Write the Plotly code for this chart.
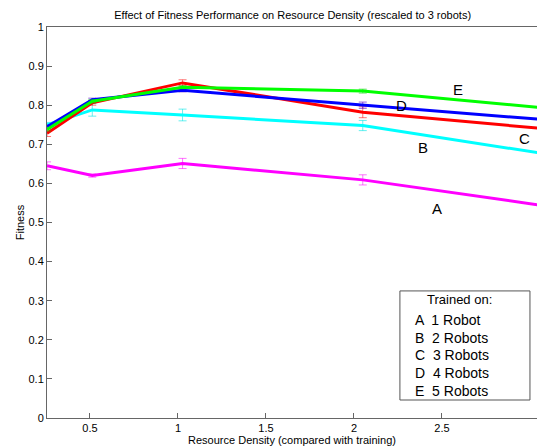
import plotly.graph_objects as go

# Data (x = resource density, rescaled)
x_vals = [0.256, 0.513, 1.026, 2.05, 3.08]

series_names = ["A", "B", "C", "D", "E"]
series_colors = ["#FF00FF", "#00FFFF", "#FF0000", "#0000FF", "#00FF00"]
err_colors = ["rgba(255,0,255,0.55)", "rgba(0,230,230,0.6)", "rgba(255,0,0,0.55)",
              "rgba(80,0,200,0.6)", "rgba(0,200,0,0.55)"]

A_vals = [0.645, 0.620, 0.651, 0.609, 0.543]
B_vals = [0.750, 0.788, 0.775, 0.748, 0.676]
C_vals = [0.728, 0.806, 0.857, 0.782, 0.740]
D_vals = [0.745, 0.814, 0.838, 0.800, 0.763]
E_vals = [0.738, 0.810, 0.846, 0.836, 0.793]

A_err = [0.010, 0.004, 0.013, 0.013, 0]
B_err = [0.006, 0.016, 0.015, 0.013, 0]
C_err = [0.008, 0.006, 0.008, 0.014, 0]
D_err = [0.004, 0.004, 0.004, 0.008, 0]
E_err = [0.004, 0.004, 0.004, 0.005, 0]

all_vals = [A_vals, B_vals, C_vals, D_vals, E_vals]
all_errs = [A_err, B_err, C_err, D_err, E_err]

label_x = [2.47, 2.39, 2.97, 2.27, 2.59]
label_y = [0.537, 0.693, 0.716, 0.798, 0.839]

legend_title = "Trained on:"
legend_lines = ["A  1 Robot", "B  2 Robots", "C  3 Robots", "D  4 Robots", "E  5 Robots"]

x_ticks = [0.5, 1, 1.5, 2, 2.5]
y_ticks = [0, 0.1, 0.2, 0.3, 0.4, 0.5, 0.6, 0.7, 0.8, 0.9, 1]

FONT = "Arial, Liberation Sans, sans-serif"

fig = go.Figure()
for name, col, ecol, vals, errs in zip(series_names, series_colors, err_colors, all_vals, all_errs):
    fig.add_trace(go.Scatter(
        x=x_vals, y=vals, mode="lines", name=name,
        line=dict(color=col, width=3),
        error_y=dict(type="data", array=errs, visible=True, color=ecol, thickness=1, width=4),
        showlegend=False,
    ))

for name, lx, ly in zip(series_names, label_x, label_y):
    fig.add_annotation(x=lx, y=ly, text=name, showarrow=False,
                       font=dict(family=FONT, size=15, color="black"))

# legend box
fig.add_shape(type="rect", x0=2.261, x1=3.0, y0=0.046, y1=0.325,
              line=dict(color="#555555", width=1), fillcolor="white", layer="above")
fig.add_annotation(x=2.6, y=0.302, text=legend_title, showarrow=False,
                   font=dict(family=FONT, size=13, color="black"))
for i, t in enumerate(legend_lines):
    fig.add_annotation(x=2.335, y=0.251 - i * 0.0455, text=t, showarrow=False, xanchor="left",
                       font=dict(family=FONT, size=14, color="black"))

fig.update_layout(
    width=537, height=448,
    margin=dict(l=47, r=0, t=27, b=30),
    paper_bgcolor="white", plot_bgcolor="white",
    title=dict(text="Effect of Fitness Performance on Resource Density (rescaled to 3 robots)",
               x=0.545, xanchor="center", y=0.967, yanchor="middle",
               font=dict(family=FONT, size=11, color="black")),
    font=dict(family=FONT, size=11, color="black"),
)
fig.update_xaxes(
    range=[0.2557, 3.04], tickvals=x_ticks, ticktext=[str(v) for v in x_ticks],
    ticks="inside", ticklen=5, tickcolor="#666666",
    showline=True, linecolor="#666666", linewidth=1, mirror=True,
    showgrid=False, zeroline=False,
    title=dict(text="Resource Density (compared with training)", standoff=2,
               font=dict(family=FONT, size=11)),
)
fig.update_yaxes(
    range=[0, 1], tickvals=y_ticks, ticktext=[("%g" % v) for v in y_ticks],
    ticks="inside", ticklen=5, tickcolor="#666666",
    showline=True, linecolor="#666666", linewidth=1, mirror=True,
    showgrid=False, zeroline=False,
    title=dict(text="Fitness", standoff=1, font=dict(family=FONT, size=11)),
)

fig.write_html("out.html")
